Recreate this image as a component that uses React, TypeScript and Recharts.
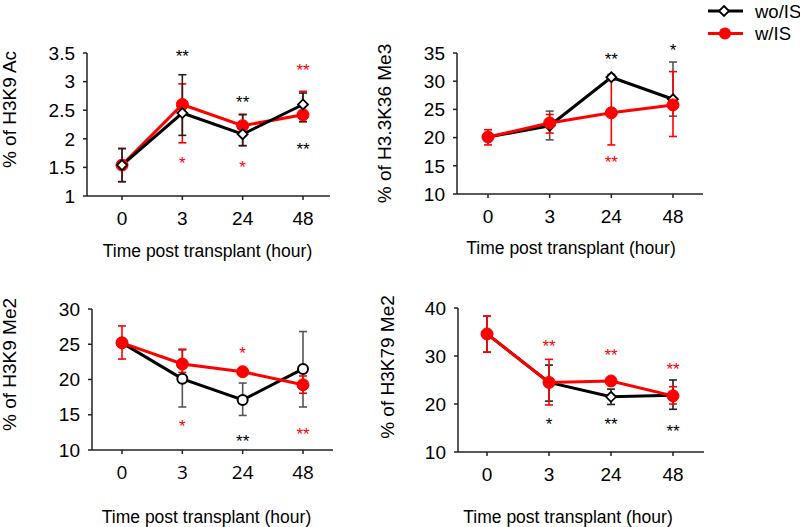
import React from 'react';
import { LineChart, Line, XAxis, YAxis, ErrorBar, ReferenceDot, Legend } from 'recharts';

const times = ['0', '3', '24', '48'];

// % of H3K9 Ac
const acWo = [1.54, 2.45, 2.08, 2.6];
const acWoErr = [[0.29, 0.29], [0.39, 0.67], [0.2, 0.34], [0.3, 0.2]];
const acW = [1.54, 2.6, 2.23, 2.42];
const acWErr = [[0.29, 0.29], [0.67, 0.36], [0.35, 0.2], [0.12, 0.41]];
const acTicks = [1, 1.5, 2, 2.5, 3, 3.5];
const acStars = [
  { time: '3', y: 3.51, text: '**', group: 'wo' },
  { time: '24', y: 2.71, text: '**', group: 'wo' },
  { time: '48', y: 1.89, text: '**', group: 'wo' },
  { time: '48', y: 3.27, text: '**', group: 'w' },
  { time: '3', y: 1.64, text: '*', group: 'w' },
  { time: '24', y: 1.57, text: '*', group: 'w' },
];

// % of H3.3K36 Me3
const k36Wo = [20.1, 22.1, 30.7, 26.8];
const k36WoErr = [[0.7, 0.7], [2.5, 2.6], [0.5, 0.5], [3.0, 6.6]];
const k36W = [20.1, 22.6, 24.4, 25.8];
const k36WErr = [[1.4, 1.3], [1.8, 1.5], [5.7, 5.8], [5.6, 5.9]];
const k36Ticks = [10, 15, 20, 25, 30, 35];
const k36Stars = [
  { time: '24', y: 34.7, text: '**', group: 'wo' },
  { time: '48', y: 36.2, text: '*', group: 'wo' },
  { time: '24', y: 16.4, text: '**', group: 'w' },
];

// % of H3K9 Me2
const k9Wo = [25.2, 20.1, 17.1, 21.5];
const k9WoErr = [[0.5, 0.5], [4.0, 4.1], [2.2, 2.4], [5.4, 5.3]];
const k9W = [25.2, 22.2, 21.1, 19.25];
const k9WErr = [[2.3, 2.4], [1.2, 2.1], [0.5, 0.5], [1.2, 1.25]];
const k9Ticks = [10, 15, 20, 25, 30];
const k9Stars = [
  { time: '24', y: 24.3, text: '*', group: 'w' },
  { time: '3', y: 14.0, text: '*', group: 'w' },
  { time: '24', y: 11.9, text: '**', group: 'wo' },
  { time: '48', y: 12.8, text: '**', group: 'w' },
];

// % of H3K79 Me2
const k79Wo = [34.6, 24.5, 21.5, 21.8];
const k79WoErr = [[3.8, 3.7], [3.9, 3.6], [1.6, 1.6], [2.9, 3.2]];
const k79W = [34.6, 24.5, 24.8, 21.7];
const k79WErr = [[3.8, 3.7], [4.7, 4.8], [0.6, 0.6], [1.7, 1.9]];
const k79Ticks = [10, 20, 30, 40];
const k79Stars = [
  { time: '3', y: 33.0, text: '**', group: 'w' },
  { time: '24', y: 31.1, text: '**', group: 'w' },
  { time: '48', y: 28.1, text: '**', group: 'w' },
  { time: '3', y: 16.6, text: '*', group: 'wo' },
  { time: '24', y: 16.6, text: '**', group: 'wo' },
  { time: '48', y: 15.2, text: '**', group: 'wo' },
];

const RED = '#ff0000';
const BLACK = '#000000';
const FONT = '"Liberation Sans", Arial, sans-serif';

const buildRows = (wo, woErr, w, wErr) =>
  times.map((t, i) => ({ time: t, wo: wo[i], woErr: woErr[i], w: w[i], wErr: wErr[i] }));

const Diamond = (props) => {
  const { cx, cy, size = 5 } = props;
  if (cx == null || cy == null) return null;
  return (
    <path
      d={`M${cx},${cy - size}L${cx + size},${cy}L${cx},${cy + size}L${cx - size},${cy}Z`}
      fill="#fff"
      stroke={BLACK}
      strokeWidth={1.8}
    />
  );
};

const YTitle = ({ viewBox, value, shift, dy }) => {
  const cx = viewBox.x + shift;
  const cy = viewBox.y + viewBox.height / 2 + dy;
  return (
    <text
      x={cx}
      y={cy}
      transform={`rotate(-90, ${cx}, ${cy})`}
      textAnchor="middle"
      dominantBaseline="central"
      fontSize={19}
      fill="#000"
      fontFamily={FONT}
    >
      {value}
    </text>
  );
};

const XTitle = ({ viewBox, value, dx, dy }) => {
  const cx = viewBox.x + viewBox.width / 2 + dx;
  const cy = viewBox.y + dy;
  return (
    <text x={cx} y={cy} textAnchor="middle" dominantBaseline="central" fontSize={17.5} fill="#000" fontFamily={FONT}>
      {value}
    </text>
  );
};

const LegendBox = ({ payload }) => {
  const items = [...(payload || [])].sort((a) => (a.dataKey === 'wo' ? -1 : 1));
  return (
    <svg width={95} height={45} style={{ overflow: 'visible' }}>
      {items.map((p, i) => {
        const y = 11 + i * 22.5;
        return (
          <g key={p.value}>
            <line x1={3} x2={38} y1={y} y2={y} stroke={p.color} strokeWidth={3} />
            {p.dataKey === 'wo' ? (
              <Diamond cx={19} cy={y} size={5} />
            ) : (
              <circle cx={20} cy={y} r={6} fill={RED} />
            )}
            <text x={50} y={y} dominantBaseline="central" fontSize={18.5} fill="#000" fontFamily={FONT}>
              {p.value}
            </text>
          </g>
        );
      })}
    </svg>
  );
};

function Panel(props) {
  const {
    left, top, width, height, margin, yWidth, xHeight, padding,
    domain, ticks, rows, stars, title, titleShift, titleDy, xTitleDx, xTitleDy,
    marker, woErrColor, redFirst, xTickFont, showLegend,
  } = props;

  const blackLine = (
    <Line
      key="wo"
      dataKey="wo"
      name="wo/IS"
      stroke={BLACK}
      strokeWidth={3}
      isAnimationActive={false}
      dot={marker === 'circle'
        ? { r: 5, fill: '#fff', stroke: BLACK, strokeWidth: 2 }
        : (p) => <Diamond key={`d${p.index}`} cx={p.cx} cy={p.cy} size={5} />}
      activeDot={false}
    >
      <ErrorBar dataKey="woErr" direction="y" width={4} stroke={woErrColor} strokeWidth={1.6} />
    </Line>
  );
  const redLine = (
    <Line
      key="w"
      dataKey="w"
      name="w/IS"
      stroke={RED}
      strokeWidth={3}
      isAnimationActive={false}
      dot={{ r: 6, fill: RED, stroke: RED, strokeWidth: 1 }}
      activeDot={false}
    >
      <ErrorBar dataKey="wErr" direction="y" width={4} stroke={RED} strokeWidth={1.6} />
    </Line>
  );

  return (
    <div style={{ position: 'absolute', left, top, width, height }}>
      <LineChart width={width} height={height} data={rows} margin={margin}>
        <XAxis
          dataKey="time"
          scale="point"
          padding={padding}
          height={xHeight}
          interval={0}
          tickSize={4}
          tickMargin={12}
          stroke="#222"
          axisLine={{ stroke: '#222', strokeWidth: 1.5 }}
          tickLine={{ stroke: '#222', strokeWidth: 1.5 }}
          tick={{ fill: '#000', fontSize: 19, fontFamily: xTickFont }}
          label={<XTitle value="Time post transplant (hour)" dx={xTitleDx} dy={xTitleDy} />}
        />
        <YAxis
          type="number"
          domain={domain}
          ticks={ticks}
          width={yWidth}
          interval={0}
          tickSize={4}
          tickMargin={8}
          axisLine={{ stroke: '#222', strokeWidth: 1.5 }}
          tickLine={{ stroke: '#222', strokeWidth: 1.5 }}
          tick={{ fill: '#000', fontSize: 19, fontFamily: FONT }}
          label={<YTitle value={title} shift={titleShift} dy={titleDy} />}
        />
        {redFirst ? [redLine, blackLine] : [blackLine, redLine]}
        {stars.map((s, i) => (
          <ReferenceDot
            key={`s${i}`}
            x={s.time}
            y={s.y}
            r={0}
            ifOverflow="visible"
            shape={(p) => (
              <text
                x={p.cx}
                y={p.cy + 10}
                textAnchor="middle"
                fontSize={17}
                fill={s.group === 'w' ? RED : BLACK}
                fontFamily={FONT}
              >
                {s.text}
              </text>
            )}
          />
        ))}
        {showLegend && (
          <Legend
            layout="vertical"
            align="center"
            verticalAlign="middle"
            content={<LegendBox />}
            wrapperStyle={{ position: 'absolute', left: 335, top: 0, width: 95, height: 45 }}
          />
        )}
      </LineChart>
    </div>
  );
}

export default function App() {
  return (
    <div style={{ position: 'absolute', left: 0, top: 0, width: 800, height: 527, background: '#fff', fontFamily: FONT }}>
      <Panel
        left={0} top={0} width={370} height={270}
        margin={{ top: 53, right: 40, bottom: 0, left: 0 }}
        yWidth={87} xHeight={74} padding={{ left: 35, right: 27 }}
        domain={[1, 3.5]} ticks={acTicks}
        rows={buildRows(acWo, acWoErr, acW, acWErr)} stars={acStars}
        title="% of H3K9 Ac" titleShift={9} titleDy={-15}
        xTitleDx={-1} xTitleDy={55}
        marker="diamond" woErrColor="#222" redFirst xTickFont={FONT}
      />
      <Panel
        left={370} top={0} width={430} height={270}
        margin={{ top: 53, right: 97, bottom: 0, left: 0 }}
        yWidth={87} xHeight={76} padding={{ left: 31, right: 30 }}
        domain={[10, 35]} ticks={k36Ticks}
        rows={buildRows(k36Wo, k36WoErr, k36W, k36WErr)} stars={k36Stars}
        title="% of H3.3K36 Me3" titleShift={14} titleDy={0}
        xTitleDx={-9} xTitleDy={54}
        marker="diamond" woErrColor="#555" xTickFont={FONT} showLegend
      />
      <Panel
        left={0} top={270} width={370} height={257}
        margin={{ top: 39, right: 37, bottom: 0, left: 0 }}
        yWidth={92} xHeight={77} padding={{ left: 30, right: 30 }}
        domain={[10, 30]} ticks={k9Ticks}
        rows={buildRows(k9Wo, k9WoErr, k9W, k9WErr)} stars={k9Stars}
        title="% of H3K9 Me2" titleShift={9} titleDy={-15}
        xTitleDx={-6} xTitleDy={67}
        marker="circle" woErrColor="#555" xTickFont='"Open Sans", sans-serif'
      />
      <Panel
        left={370} top={270} width={430} height={257}
        margin={{ top: 38, right: 96, bottom: 0, left: 0 }}
        yWidth={88} xHeight={75} padding={{ left: 29, right: 31 }}
        domain={[10, 40]} ticks={k79Ticks}
        rows={buildRows(k79Wo, k79WoErr, k79W, k79WErr)} stars={k79Stars}
        title="% of H3K79 Me2" titleShift={17} titleDy={-13}
        xTitleDx={-13} xTitleDy={65}
        marker="diamond" woErrColor="#222" xTickFont={FONT}
      />
    </div>
  );
}
